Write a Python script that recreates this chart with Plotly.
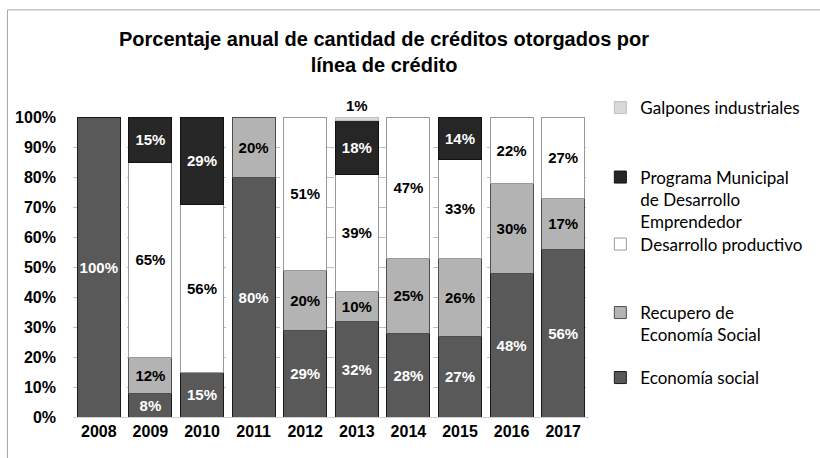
import plotly.graph_objects as go

# Datos (porcentajes por año)
anios = ["2008", "2009", "2010", "2011", "2012", "2013", "2014", "2015", "2016", "2017"]
economia_social = [100, 8, 15, 80, 29, 32, 28, 27, 48, 56]
recupero = [None, 12, None, 20, 20, 10, 25, 26, 30, 17]
desarrollo_productivo = [None, 65, 56, None, 51, 39, 47, 33, 22, 27]
programa_municipal = [None, 15, 29, None, None, 18, None, 14, None, None]
galpones = [None, None, None, None, None, 1, None, None, None, None]
ticks_y = [0, 10, 20, 30, 40, 50, 60, 70, 80, 90, 100]


def etiquetas(vals):
    return [f"{v}%" if v else "" for v in vals]


series = [
    # nombre, valores, relleno, borde, color texto, leyenda, posición leyenda y
    ("Economía social", economia_social, "#595959", "#1a1a1a", "white", "legend5", 0.13),
    ("Recupero de<br>Economía Social", recupero, "#b3b3b3", "#4d4d4d", "black", "legend4", 0.31),
    ("Desarrollo productivo", desarrollo_productivo, "white", "#9a9a9a", "black", "legend3", 0.575),
    ("Programa Municipal<br>de Desarrollo<br>Emprendedor", programa_municipal, "#262626", "#111111", "white", "legend2", 0.725),
    ("Galpones industriales", galpones, "#d9d9d9", "#bfbfbf", "black", "legend", 1.03),
]

fig = go.Figure()
for nombre, vals, relleno, borde, ctexto, leg, _ in series:
    es_tope = nombre == "Galpones industriales"
    fig.add_trace(go.Bar(
        x=anios, y=vals, name=nombre, legend=leg,
        marker=dict(color=relleno, line=dict(color=borde, width=1)),
        text=etiquetas(vals),
        textposition="outside" if es_tope else "inside",
        insidetextanchor="middle",
        textangle=0,
        constraintext="none",
        cliponaxis=False,
        textfont=dict(family="Liberation Sans", size=15, color=ctexto, weight="bold"),
    ))

leyendas = {}
for nombre, vals, relleno, borde, ctexto, leg, ypos in series:
    leyendas[leg] = dict(
        x=1.022, xanchor="left", y=ypos, yanchor="middle", valign="top",
        font=dict(family="Lato", size=17, color="black"),
        bgcolor="rgba(0,0,0,0)", itemclick=False,
    )

fig.update_layout(
    barmode="stack", bargap=0.165,
    width=820, height=458,
    margin=dict(l=73, r=220, t=117, b=41),
    plot_bgcolor="white", paper_bgcolor="white",
    title=dict(
        text="Porcentaje anual de cantidad de créditos otorgados por<br>línea de crédito",
        x=384 / 820, xanchor="center", xref="container",
        y=1 - 46 / 458, yanchor="top", yref="container",
        font=dict(family="Liberation Sans", size=20, color="black", weight="bold"),
    ),
    showlegend=True,
    uniformtext=dict(minsize=15, mode="show"),
    xaxis=dict(
        showgrid=False, showline=True, linecolor="#cfcfcf", linewidth=1,
        tickfont=dict(family="Liberation Sans", size=16, color="black", weight="bold"),
        ticks="",
    ),
    yaxis=dict(
        range=[0, 100], tickvals=ticks_y, ticktext=[f"{t}%" for t in ticks_y],
        showgrid=True, gridcolor="#bfbfbf", griddash="dash", gridwidth=1,
        zeroline=False, showline=False, ticks="", ticklabelstandoff=16,
        tickfont=dict(family="Liberation Sans", size=16, color="black", weight="bold"),
    ),
    **leyendas,
)

# Marco del área del gráfico
fig.add_shape(type="rect", xref="paper", yref="paper",
              x0=-0.127, x1=1.6, y0=-0.6, y1=1.357,
              line=dict(color="#a6a6a6", width=1), fillcolor="rgba(0,0,0,0)", layer="below")

fig.write_html("out.html", config={"displayModeBar": False},
               post_script="document.body.style.margin='0';")
